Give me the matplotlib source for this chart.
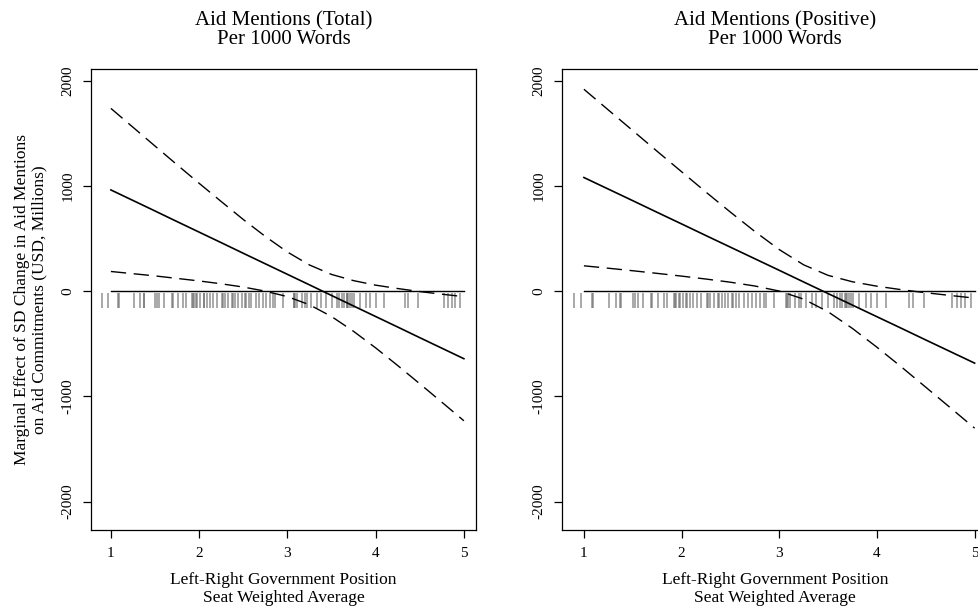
import numpy as np
import matplotlib
matplotlib.use('Agg')
import matplotlib.pyplot as plt

plt.rcParams['font.family'] = ['Liberation Serif', 'DejaVu Serif']

# grid of moderator values (left-right position)
x_grid = [1.0, 1.25, 1.5, 1.75, 2.0, 2.25, 2.5, 2.75, 3.0, 3.25, 3.5, 3.75, 4.0, 4.25, 4.5, 4.75, 5.0]

# panel 1: total mentions
total_est = [962, 862, 762, 661, 561, 461, 360, 260, 160, 60, -41, -141, -241, -341, -442, -542, -642]
total_hi = [1737, 1558, 1379, 1201, 1025, 852, 681, 520, 372, 249, 159, 100, 57, 25, -4, -29, -52]
total_lo = [187, 166, 145, 121, 97, 70, 39, 0, -52, -129, -241, -382, -539, -707, -880, -1055, -1232]

# panel 2: positive mentions
pos_est = [1080, 970, 860, 749, 639, 528, 418, 308, 198, 87, -23, -133, -243, -353, -464, -574, -684]
pos_hi = [1919, 1722, 1526, 1329, 1135, 941, 751, 567, 395, 250, 150, 89, 47, 14, -15, -41, -66]
pos_lo = [241, 218, 194, 169, 143, 115, 85, 49, 1, -76, -196, -355, -533, -720, -913, -1107, -1302]

# observed values of the moderator (rug)
rug_x = [0.90, 0.97, 1.08, 1.09, 1.26, 1.33, 1.37, 1.38, 1.50, 1.52, 1.55, 1.60, 1.69, 1.70,
         1.76, 1.82, 1.85, 1.92, 1.93, 1.94, 1.97, 1.98, 2.01, 2.05, 2.06, 2.09, 2.12, 2.16,
         2.20, 2.26, 2.27, 2.29, 2.33, 2.37, 2.38, 2.41, 2.44, 2.48, 2.52, 2.53, 2.56, 2.59,
         2.64, 2.68, 2.72, 2.76, 2.80, 2.84, 2.86, 2.95, 3.07, 3.08, 3.09, 3.11, 3.16, 3.20,
         3.22, 3.27, 3.33, 3.38, 3.44, 3.50, 3.56, 3.59, 3.62, 3.64, 3.67, 3.68, 3.69, 3.71,
         3.73, 3.75, 3.82, 3.89, 3.94, 4.00, 4.09, 4.33, 4.37, 4.48, 4.77, 4.82, 4.86, 4.90, 4.96]

zero_x = [1, 5]
zero_y = [0, 0]

titles = ['Aid Mentions (Total)\nPer 1000 Words', 'Aid Mentions (Positive)\nPer 1000 Words']
xlab = 'Left-Right Government Position\nSeat Weighted Average'
ylab = 'Marginal Effect of SD Change in Aid Mentions\non Aid Commitments (USD, Millions)'

fig = plt.figure(figsize=(9.79, 6.12), dpi=100)
ax1 = fig.add_axes([0.093, 0.134, 0.393, 0.753])
ax2 = fig.add_axes([0.574, 0.134, 0.435, 0.753])

dash = (0, (11, 5.5))
panels = [(ax1, total_est, total_hi, total_lo), (ax2, pos_est, pos_hi, pos_lo)]
for i, (ax, est, hi, lo) in enumerate(panels):
    ax.vlines(rug_x, -160, -20, color='#666666', alpha=0.6, lw=1.3)
    ax.plot(zero_x, zero_y, color='black', lw=1)
    ax.plot(x_grid, est, color='black', lw=1.2)
    ax.plot(x_grid, hi, color='black', lw=1.0, linestyle=dash)
    ax.plot(x_grid, lo, color='black', lw=1.0, linestyle=dash)

    ax.set_xlim(0.775, 5.135)
    ax.set_ylim(-2270, 2110)
    ax.set_xticks([1, 2, 3, 4, 5])
    ax.set_yticks([-2000, -1000, 0, 1000, 2000])
    ax.set_yticklabels(['-2000', '-1000', '0', '1000', '2000'], rotation=90, va='center')
    ax.tick_params(direction='out', length=6, width=0.9, labelsize=11, pad=6)
    for s in ax.spines.values():
        s.set_linewidth(0.9)
    ax.set_title(titles[i], fontsize=15, pad=18, linespacing=1.0)
    ax.set_xlabel(xlab, fontsize=12.5, labelpad=9, linespacing=1.15)

ax1.set_ylabel(ylab, fontsize=12.5, labelpad=10, linespacing=1.15)

fig.savefig('out.png', dpi=100)
